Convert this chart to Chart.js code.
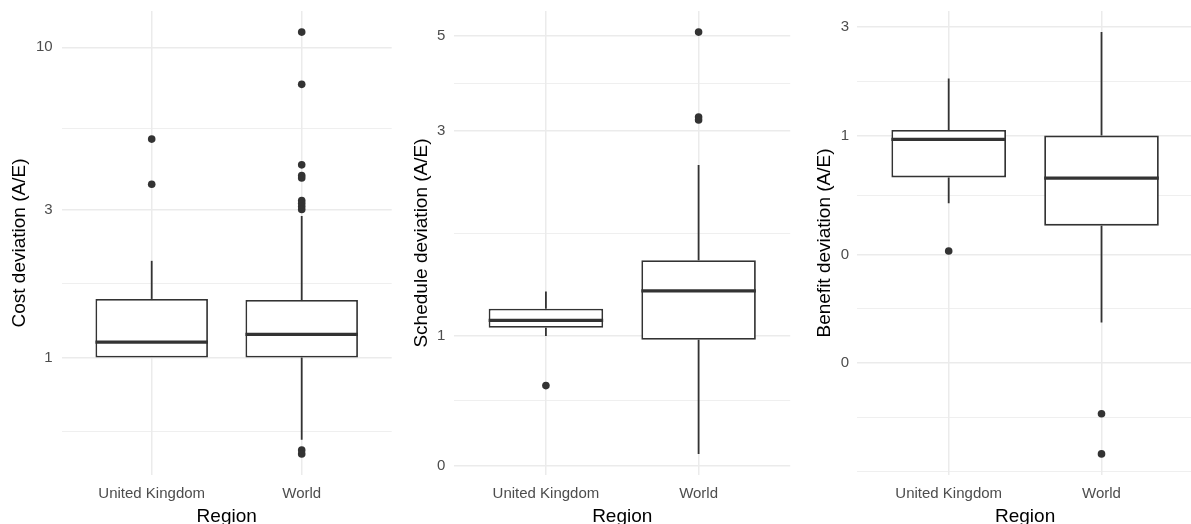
<!DOCTYPE html>
<html>
<head>
<meta charset="utf-8">
<script src="https://cdn.jsdelivr.net/npm/chart.js@4"></script>
<style>
  html, body { margin: 0; padding: 0; background: #fff; overflow: hidden; }
  body { width: 1191px; height: 524px; position: relative; }
  canvas { position: absolute; top: 0; }
</style>
</head>
<body>
<canvas id="cost" width="397" height="524" style="left:0px"></canvas>
<canvas id="schedule" width="397" height="524" style="left:397px"></canvas>
<canvas id="benefit" width="403" height="524" style="left:794px"></canvas>
<script>
const regions = ['United Kingdom', 'World'];

// Cost deviation (A/E), per region: [United Kingdom, World]
const costLower = [1.0, 0.543];
const costQ1 = [1.0, 1.0];
const costMedian = [1.122, 1.187];
const costQ3 = [1.545, 1.533];
const costUpper = [2.05, 2.86];
const costOutliersUK = [5.06, 3.62];
const costOutliersWorld = [11.2, 7.6, 4.18, 3.86, 3.79, 3.21, 3.14, 3.07, 3.0, 0.503, 0.489];
const costTicks = [1, 3, 10];
const costTickLabels = ['1', '3', '10'];

// Schedule deviation (A/E)
const scheduleLower = [1.0, 0.532];
const scheduleQ1 = [1.045, 0.98];
const scheduleMedian = [1.087, 1.273];
const scheduleQ3 = [1.157, 1.50];
const scheduleUpper = [1.27, 2.50];
const scheduleOutliersUK = [0.767];
const scheduleOutliersWorld = [5.09, 3.23, 3.18];
const scheduleTicks = [0.5, 1, 3, 5];
const scheduleTickLabels = ['0', '1', '3', '5'];

// Benefit deviation (A/E)
const benefitLower = [0.504, 0.151];
const benefitQ1 = [0.655, 0.402];
const benefitMedian = [0.963, 0.650];
const benefitQ3 = [1.058, 1.0];
const benefitUpper = [1.78, 2.85];
const benefitOutliersUK = [0.311];
const benefitOutliersWorld = [0.0599, 0.0399];
const benefitTicks = [0.1, 0.3, 1, 3];
const benefitTickLabels = ['0', '0', '1', '3'];

const FONT = '"Liberation Sans", Arial, Helvetica, sans-serif';
const INK = '#333333';
const GRID = '#EBEBEB';

// major breaks plus ggplot-style minor breaks (midpoints in log space, one step beyond)
function gridValues(majors, lo, hi) {
  const b = majors.map(Math.log10);
  const step = b[1] - b[0];
  const ext = [b[0] - step, ...b, b[b.length - 1] + step];
  const all = [];
  for (let i = 0; i < ext.length - 1; i++) {
    all.push(ext[i], (ext[i] + ext[i + 1]) / 2);
  }
  all.push(ext[ext.length - 1]);
  return all.map(v => Math.pow(10, v)).filter(v => v >= lo && v <= hi);
}

function makePanel(id, d, lay) {
  const allValues = [...d.lower, ...d.upper, ...d.outUK, ...d.outWorld];
  const lmin = Math.log10(Math.min(...allValues));
  const lmax = Math.log10(Math.max(...allValues));
  const pad = (lmax - lmin) * 0.05;
  const yMin = Math.pow(10, lmin - pad);
  const yMax = Math.pow(10, lmax + pad);

  const majorLabel = new Map();
  d.ticks.forEach((t, i) => majorLabel.set(Math.log10(t).toFixed(6), d.tickLabels[i]));
  const isMajor = v => majorLabel.has(Math.log10(v).toFixed(6));

  const outliers = [
    ...d.outUK.map(y => ({ x: 1, y })),
    ...d.outWorld.map(y => ({ x: 2, y }))
  ];

  const boxLines = {
    id: 'boxLines',
    afterDatasetsDraw(chart) {
      const ctx = chart.ctx;
      const y = chart.scales.y;
      const bars = chart.getDatasetMeta(1).data;
      ctx.save();
      ctx.strokeStyle = INK;
      ctx.lineCap = 'butt';
      bars.forEach((bar, i) => {
        const half = bar.width / 2;
        ctx.lineWidth = 1.8;
        ctx.beginPath();
        ctx.moveTo(bar.x, y.getPixelForValue(d.upper[i]));
        ctx.lineTo(bar.x, y.getPixelForValue(d.q3[i]));
        ctx.moveTo(bar.x, y.getPixelForValue(d.q1[i]));
        ctx.lineTo(bar.x, y.getPixelForValue(d.lower[i]));
        ctx.stroke();
        const ym = y.getPixelForValue(d.median[i]);
        ctx.lineWidth = 3.2;
        ctx.beginPath();
        ctx.moveTo(bar.x - half, ym);
        ctx.lineTo(bar.x + half, ym);
        ctx.stroke();
      });
      ctx.restore();
    }
  };

  return new Chart(document.getElementById(id), {
    type: 'bar',
    data: {
      datasets: [
        {
          type: 'line',
          data: outliers,
          showLine: false,
          pointRadius: 3.8,
          pointHoverRadius: 3.8,
          pointBackgroundColor: INK,
          pointBorderWidth: 0,
          order: 1
        },
        {
          type: 'bar',
          data: regions.map((r, i) => ({ x: i + 1, y: [d.q1[i], d.q3[i]] })),
          backgroundColor: '#ffffff',
          borderColor: INK,
          borderWidth: 1.8,
          borderSkipped: false,
          barPercentage: 0.75,
          categoryPercentage: 1,
          order: 2
        }
      ]
    },
    options: {
      responsive: false,
      animation: false,
      devicePixelRatio: 1,
      layout: { padding: { left: 0, top: 11, right: lay.right, bottom: 0 } },
      plugins: { legend: { display: false }, tooltip: { enabled: false } },
      scales: {
        x: {
          type: 'linear',
          min: 0.4,
          max: 2.6,
          bounds: 'data',
          offset: false,
          afterBuildTicks: (scale) => { scale.ticks = [{ value: 1 }, { value: 2 }]; },
          afterFit: (scale) => {
            scale.height = 49;
            scale.paddingLeft = 0;
            scale.paddingRight = 0;
          },
          grid: { color: GRID, lineWidth: 1.5, drawTicks: false, offset: false },
          border: { display: false },
          ticks: {
            autoSkip: false,
            maxRotation: 0,
            padding: 10,
            color: '#4D4D4D',
            font: { family: FONT, size: 15 },
            callback: (v) => regions[v - 1] || ''
          },
          title: {
            display: true,
            text: 'Region',
            color: '#000000',
            font: { family: FONT, size: 19, lineHeight: 0.8 },
            padding: { top: 0, bottom: 0 }
          }
        },
        y: {
          type: 'logarithmic',
          min: yMin,
          max: yMax,
          bounds: 'data',
          afterBuildTicks: (scale) => {
            scale.ticks = gridValues(d.ticks, yMin, yMax).map(v => ({ value: v, major: false }));
          },
          afterFit: (scale) => {
            scale.width = lay.yWidth;
            scale.paddingTop = 0;
            scale.paddingBottom = 0;
          },
          grid: {
            color: GRID,
            drawTicks: false,
            lineWidth: (c) => (c.tick && isMajor(c.tick.value)) ? 1.5 : 0.8
          },
          border: { display: false },
          ticks: {
            autoSkip: false,
            padding: lay.tickPad,
            color: '#4D4D4D',
            font: { family: FONT, size: 15 },
            callback: (v) => majorLabel.get(Math.log10(v).toFixed(6)) || ''
          },
          title: {
            display: true,
            text: d.title,
            color: '#000000',
            font: { family: FONT, size: 19, lineHeight: 1.1 },
            padding: { top: lay.titlePad, bottom: 0 }
          }
        }
      }
    },
    plugins: [boxLines]
  });
}

makePanel('cost', {
  title: 'Cost deviation (A/E)',
  lower: costLower, q1: costQ1, median: costMedian, q3: costQ3, upper: costUpper,
  outUK: costOutliersUK, outWorld: costOutliersWorld,
  ticks: costTicks, tickLabels: costTickLabels
}, { yWidth: 61.7, right: 5.3, tickPad: 9, titlePad: 9.6 });

makePanel('schedule', {
  title: 'Schedule deviation (A/E)',
  lower: scheduleLower, q1: scheduleQ1, median: scheduleMedian, q3: scheduleQ3, upper: scheduleUpper,
  outUK: scheduleOutliersUK, outWorld: scheduleOutliersWorld,
  ticks: scheduleTicks, tickLabels: scheduleTickLabels
}, { yWidth: 57.3, right: 0, tickPad: 9, titlePad: 14.2 });

makePanel('benefit', {
  title: 'Benefit deviation (A/E)',
  lower: benefitLower, q1: benefitQ1, median: benefitMedian, q3: benefitQ3, upper: benefitUpper,
  outUK: benefitOutliersUK, outWorld: benefitOutliersWorld,
  ticks: benefitTicks, tickLabels: benefitTickLabels
}, { yWidth: 63, right: 0.4, tickPad: 8, titlePad: 20.7 });
</script>
</body>
</html>
